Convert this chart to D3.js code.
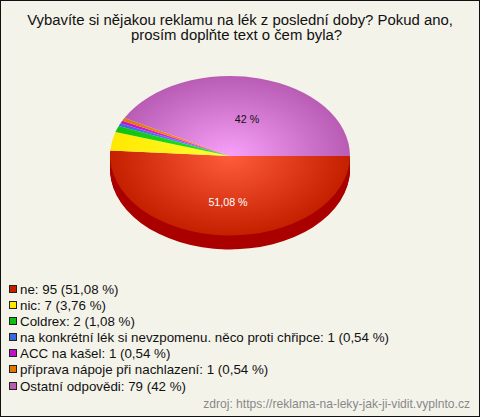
<!DOCTYPE html>
<html><head><meta charset="utf-8">
<script src="https://cdn.jsdelivr.net/npm/d3@7"></script>
<style>html,body{margin:0;padding:0;background:#f4f3ea}svg{display:block}text{font-family:"Liberation Sans",Arial,sans-serif}</style>
</head><body><svg id="c" width="480" height="417"></svg>
<script>
const titleLines=["Vybavíte si nějakou reklamu na lék z poslední doby? Pokud ano,","prosím doplňte text o čem byla?"];
const categories=["ne","nic","Coldrex","na konkrétní lék si nevzpomenu. něco proti chřipce","ACC na kašel","příprava nápoje při nachlazení","Ostatní odpovědi"];
const counts=[95,7,2,1,1,1,79];
const percents=["51,08 %","3,76 %","1,08 %","0,54 %","0,54 %","0,54 %","42 %"];
// slice sizes (%)
const sliceShares=[51.11,3.75,1.25,0.59,0.59,0.59,42.12];
const innerColors=["#ff5c3c","#ffff33","#22ee22","#6699ff","#ff33ff","#ff9922","#f8a0fa"];
const outerColors=["#c42000","#ffe800","#10c010","#3a66e0","#c010c8","#e07800","#b85cb4"];
const sideColor="#aa0000";
const source="zdroj: https://reklama-na-leky-jak-ji-vidit.vyplnto.cz";

const svg=d3.select("#c");
const cx=230,cy=156,rx=120,ry=80,depth=14;
const titleX=[240,236.5];
svg.append("rect").attr("x",.5).attr("y",.5).attr("width",479).attr("height",416).attr("fill","#f4f3ea").attr("stroke","#111");

svg.append("g").selectAll("text").data(titleLines).join("text")
 .attr("x",(d,i)=>titleX[i]).attr("y",(d,i)=>25+i*15).attr("text-anchor","middle").attr("font-size",14.9).attr("fill","#111").text(d=>d);

const defs=svg.append("defs");
categories.forEach((c,i)=>{
 const g=defs.append("radialGradient").attr("id","g"+i).attr("gradientUnits","userSpaceOnUse")
  .attr("cx",0).attr("cy",0).attr("r",1);
 g.append("stop").attr("offset",0).attr("stop-color",innerColors[i]);
 g.append("stop").attr("offset",1).attr("stop-color",outerColors[i]);
});

// angles start at 3 o'clock and run clockwise on screen
const pie=d3.pie().sort(null).value(d=>d).startAngle(Math.PI/2).endAngle(Math.PI/2+2*Math.PI);
const arcs=pie(sliceShares);
const arc=d3.arc().innerRadius(0).outerRadius(1);

const sideG=svg.append("g");
d3.range(depth,0,-1).forEach(off=>{
 sideG.append("path").attr("transform",`translate(${cx},${cy+off}) scale(${rx},${ry})`)
  .attr("d",arc(arcs[0])).attr("fill",sideColor);
});

svg.append("g").attr("transform",`translate(${cx},${cy}) scale(${rx},${ry})`)
 .selectAll("path").data(arcs).join("path").attr("d",arc).attr("fill",(d,i)=>`url(#g${i})`);

svg.append("text").attr("x",228).attr("y",206).attr("text-anchor","middle").attr("font-size",10.7).attr("fill","#fff").text(percents[0]);
svg.append("text").attr("x",247).attr("y",123).attr("text-anchor","middle").attr("font-size",10.7).attr("fill","#111").text(percents[6]);

const y=d3.scalePoint().domain(d3.range(categories.length)).range([289,385.5]);
const leg=svg.append("g").selectAll("g").data(categories).join("g").attr("transform",(d,i)=>`translate(0,${Math.round(y(i))})`);
leg.append("rect").attr("x",9.5).attr("y",-3.5).attr("width",7).attr("height",7)
 .attr("fill",(d,i)=>outerColors[i]).attr("stroke","#222");
leg.append("text").attr("x",20).attr("y",4.5).attr("font-size",13.33).attr("fill","#111")
 .text((d,i)=>`${d}: ${counts[i]} (${percents[i]})`);

svg.append("text").attr("x",470).attr("y",408).attr("text-anchor","end").attr("font-size",12.1).attr("fill","#888").text(source);
</script></body></html>
